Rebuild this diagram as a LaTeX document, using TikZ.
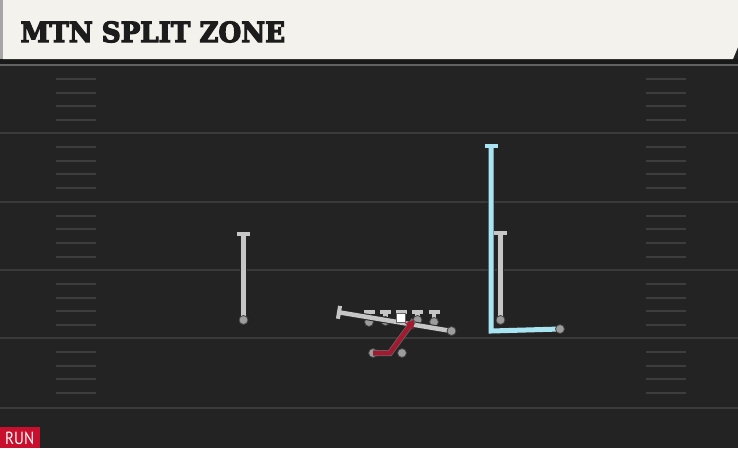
\documentclass[tikz,border=0pt]{standalone}
\usepackage{fontspec}
\setmainfont{DejaVu Serif}
\newfontfamily\titlefont{DejaVu Serif Bold}
\newfontfamily\runfont{PT Sans}
\usetikzlibrary{arrows.meta}
\definecolor{fieldbg}{HTML}{232323}
\definecolor{yardline}{HTML}{3A3A3A}
\definecolor{hashc}{HTML}{3D3D3D}
\definecolor{headbg}{HTML}{F4F2EC}
\definecolor{titlec}{HTML}{1C1C1C}
\definecolor{routegray}{HTML}{C6C6C6}
\definecolor{dotgray}{HTML}{9C9C9C}
\definecolor{routecyan}{HTML}{A9E4F2}
\definecolor{routered}{HTML}{A3192F}
\definecolor{runred}{HTML}{C8102E}
\tikzset{
  yard/.style={draw=yardline, line width=2pt},
  hashmark/.style={draw=hashc, line width=2pt},
  grayroute/.style={draw=routegray, line width=4.5pt, preaction={draw=black!85, line width=6.5pt}},
  cyanroute/.style={draw=routecyan, line width=5pt, line join=miter, preaction={draw=black!85, line width=7pt}},
  redroute/.style={draw=routered, line width=4.5pt, line join=round, preaction={draw=black!60, line width=6pt, -}},
  tbar/.style={-{Bar[width=13pt, line width=4pt]}},
  tbarsmall/.style={-{Bar[width=11pt, line width=4pt]}},
  player/.style={circle, fill=dotgray, draw=black!75, line width=0.8pt, minimum size=9pt, inner sep=0pt},
  center/.style={rectangle, fill=white, draw=black!60, line width=0.6pt, minimum size=8.5pt, inner sep=0pt},
  titletxt/.style={anchor=south west, inner sep=0pt}
}
\begin{document}
\begin{tikzpicture}[x=1pt,y=-1pt]
\useasboundingbox (0,0) rectangle (738,448);
\fill[fieldbg] (0,0) rectangle (738,448);
% field top edge
\draw[draw=black!90, line width=5pt] (0,61.5) -- (738,61.5);
\draw[draw=yardline!80, line width=1.5pt] (0,65) -- (738,65);
% yard lines
\foreach \y in {133,201.5,270,338,408} {
  \draw[yard] (0,\y) -- (738,\y);
}
% hash marks
\foreach \y in {65,133,201.5,270,338} {
  \foreach \d in {14,27.5,41,55} {
    \draw[hashmark] (56,\y+\d) -- (96,\y+\d);
    \draw[hashmark] (646,\y+\d) -- (686,\y+\d);
  }
}
% header
\fill[black!35] (0,0) rectangle (4,59);
\fill[headbg] (3,0) -- (738,0) -- (738,47) -- (733,59) -- (3,59) -- cycle;
\node[titletxt, text=titlec] (title) at (20.3,42.7) {\resizebox{264.5pt}{20.7pt}{\titlefont\special{pdf:literal direct 2 Tr 0.45 w}MTN SPLIT ZONE\special{pdf:literal direct 0 Tr}}};
% coordinates of players
\coordinate (wr) at (243.5,320);
\coordinate (wrend) at (243.5,232);
\coordinate (slot) at (500.5,320);
\coordinate (slotend) at (500.5,231);
\coordinate (wide) at (560,329);
\coordinate (widecorner) at (491,331);
\coordinate (wideend) at (491,144);
\coordinate (ol1) at (369,322);
\coordinate (ol2) at (385.5,321);
\coordinate (cc) at (401,318);
\coordinate (ol4) at (417.5,320);
\coordinate (ol5) at (434,322);
\coordinate (hb) at (451.5,331);
\coordinate (hbend) at (337,312);
\coordinate (rb) at (373,353);
\coordinate (rbturn) at (390,353);
\coordinate (rbend) at (414,320);
\coordinate (qb) at (402,353);
% routes
\draw[grayroute, tbar] (wr) -- (wrend);
\draw[cyanroute, tbar] (wide) -- (widecorner) -- (wideend);
\draw[grayroute, tbar] (slot) -- (slotend);
\draw[grayroute, tbarsmall] (ol1) -- (369,309.5);
\draw[grayroute, tbarsmall] (ol2) -- (385.5,309.5);
\draw[grayroute, tbarsmall] (cc) -- (401,309.5);
\draw[grayroute, tbarsmall] (ol4) -- (417.5,309.5);
\draw[grayroute, tbarsmall] (ol5) -- (434,309.5);
% players
\node[player] (WR) at (wr) {};
\node[player] (SLOT) at (slot) {};
\node[player] (WIDE) at (wide) {};
\node[player] (OL1) at (ol1) {};
\node[player] (OL2) at (ol2) {};
\node[player] (OL4) at (ol4) {};
\node[player] (OL5) at (ol5) {};
\draw[grayroute, tbar] (hb) -- (hbend);
\node[player] (HB) at (hb) {};
\node[center] (C) at (cc) {};
\node[player] (QB) at (qb) {};
\node[player] (RB) at (rb) {};
\draw[redroute, -{Triangle[length=8pt, width=10pt]}] (RB.center) -- (rbturn) -- (rbend);
% run label
\fill[runred] (0,427) rectangle (40,448);
\node[anchor=south west, inner sep=0pt, text=white] (run) at (5,445) {\resizebox{29pt}{12.5pt}{\runfont RUN}};
\end{tikzpicture}
\end{document}
